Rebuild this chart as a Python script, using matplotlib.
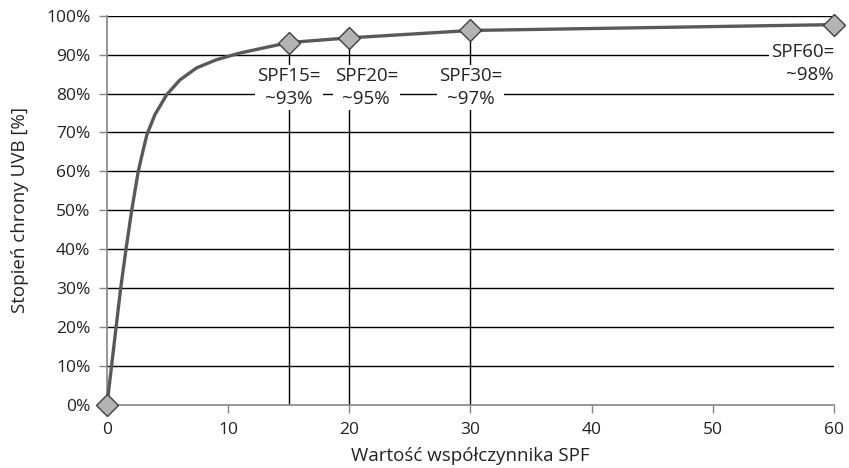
import matplotlib
matplotlib.use("Agg")
import matplotlib.pyplot as plt
from matplotlib.ticker import FuncFormatter

plt.rcParams['font.family'] = ['Open Sans', 'DejaVu Sans']

# Curve
curve_spf = [0, 1.13, 1.57, 2.04, 2.58, 2.95, 3.3, 3.96, 4.93, 6.02, 7.4, 9.05, 10.97, 12.9, 15, 20, 30, 60]
curve_pct = [0, 30, 40, 50, 60, 65, 69.5, 74.6, 79.7, 83.5, 86.6, 88.7, 90.4, 91.7, 93.1, 94.3, 96.2, 97.7]

# Marked points
mark_spf = [0, 15, 20, 30, 60]
mark_pct = [0, 93.1, 94.3, 96.2, 97.7]

# Annotations
ann_spf = [15, 20, 30, 60]
ann_label_x = [15, 21.4, 30, 60]
ann_label_y = [81.5, 81.5, 81.5, 87.7]
ann_text = ["SPF15=\n~93%", "SPF20=\n~95%", "SPF30=\n~97%", "SPF60=\n~98%"]
ann_vline_top = [93.1, 94.3, 96.2, None]

x_ticks = [0, 10, 20, 30, 40, 50, 60]
y_ticks = [0, 10, 20, 30, 40, 50, 60, 70, 80, 90, 100]

FS = 12.5
FS_ANN = 13.5
TXT = '#222222'
fig = plt.figure(figsize=(8.49, 4.68), dpi=100)
ax = fig.add_axes([0.126, 0.1346, 0.9823 - 0.126, 0.9665 - 0.1346])

ax.set_xlim(0, 60)
ax.set_ylim(0, 100)

for y in y_ticks[1:]:
    ax.axhline(y, color='black', lw=1.0, zorder=1)

for xs, top in zip(ann_spf, ann_vline_top):
    if top is not None:
        ax.plot([xs, xs], [0, top], color='black', lw=1.0, zorder=1)

ax.plot(curve_spf, curve_pct, color='#595959', lw=2.4, zorder=3, clip_on=False,
        solid_joinstyle='round')
ax.plot(mark_spf, mark_pct, linestyle='none', marker='D', markersize=11,
        markerfacecolor='#b3b3b3', markeredgecolor='#404040', markeredgewidth=1.0,
        zorder=4, clip_on=False)

bbox = dict(facecolor='white', edgecolor='none', pad=1.5)
for xs, ys, t in zip(ann_label_x, ann_label_y, ann_text):
    if xs == 60:
        ax.text(xs, ys, t, ha='right', va='center', multialignment='right',
                fontsize=FS_ANN, bbox=bbox, zorder=5, color=TXT, linespacing=1.35)
    else:
        ax.text(xs, ys, t, ha='center', va='center', multialignment='center',
                fontsize=FS_ANN, bbox=bbox, zorder=5, color=TXT, linespacing=1.35)

for s in ['top', 'right']:
    ax.spines[s].set_visible(False)
for s in ['left', 'bottom']:
    ax.spines[s].set_color('#858585')
    ax.spines[s].set_linewidth(1.2)

ax.set_xticks(x_ticks)
ax.set_yticks(y_ticks)
ax.yaxis.set_major_formatter(FuncFormatter(lambda v, p: f"{int(v)}%"))
ax.tick_params(axis='both', direction='out', length=6, width=1, color='#858585',
               labelsize=FS, labelcolor=TXT)
ax.tick_params(axis='y', pad=6)
ax.tick_params(axis='x', pad=6)

ax.set_xlabel("Wartość współczynnika SPF", fontsize=FS_ANN, color=TXT, labelpad=7)
ax.set_ylabel("Stopień chrony UVB [%]", fontsize=FS_ANN, color=TXT, labelpad=12)

fig.savefig("out.png", dpi=100)
